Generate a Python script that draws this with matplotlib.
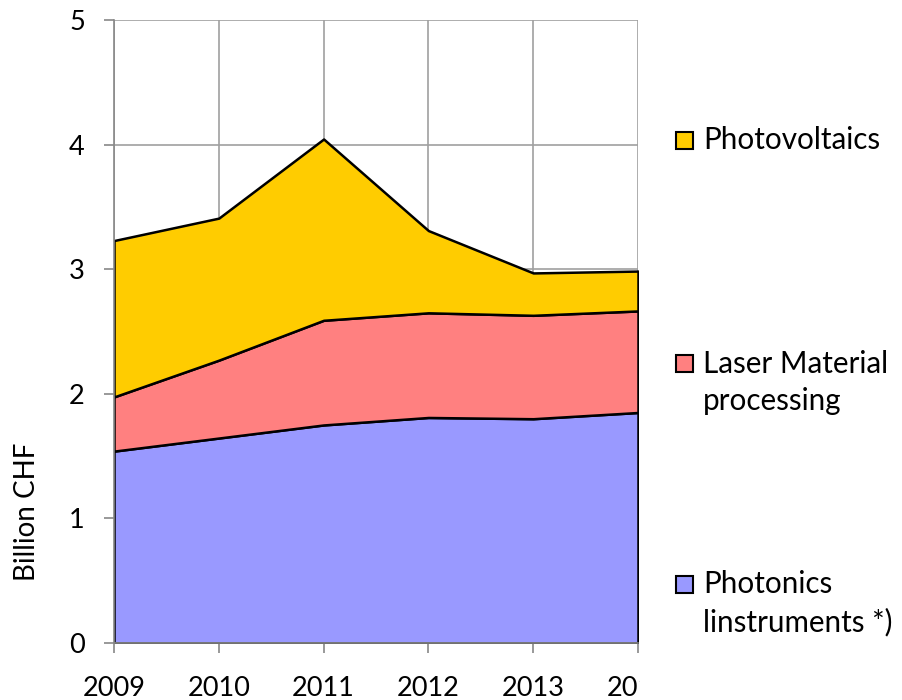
import matplotlib
matplotlib.use("Agg")
import matplotlib.pyplot as plt
from matplotlib.patches import Rectangle
from matplotlib.transforms import Bbox
import numpy as np

plt.rcParams['font.family'] = ['Lato', 'DejaVu Sans']

# data (billion CHF)
years = [2009, 2010, 2011, 2012, 2013, 2014]
photonics = [1.54, 1.645, 1.75, 1.81, 1.80, 1.85]
laser = [0.435, 0.625, 0.84, 0.84, 0.83, 0.815]
photovoltaics = [1.255, 1.14, 1.455, 0.66, 0.34, 0.32]
labels = ['Photonics\nlinstruments *)', 'Laser Material\nprocessing', 'Photovoltaics']
colors = ['#9999FF', '#FF8080', '#FFCC00']

fig = plt.figure(figsize=(9.03, 7), dpi=100)
ax = fig.add_axes([114/903, 57/700, 524/903, 623/700])

ax.stackplot(years, photonics, laser, photovoltaics, colors=colors,
             edgecolor='black', linewidth=1.8)

ax.set_xlim(2009, 2014)
ax.set_ylim(0, 5)
ax.set_xticks(years)
ax.set_yticks(range(6))
ax.grid(True, color='#A0A0A0', linewidth=1.2)
ax.set_axisbelow(True)
for s in ['top', 'right']:
    ax.spines[s].set_visible(False)
for s in ['left', 'bottom']:
    ax.spines[s].set_color('#888888')
    ax.spines[s].set_linewidth(1.2)
    ax.spines[s].set_zorder(3)
ax.tick_params(axis='both', direction='out', length=7, color='#888888', width=1.2,
               labelsize=19.5)
ax.tick_params(axis='x', pad=17)
ax.tick_params(axis='y', pad=14)
ax.set_ylabel('Billion CHF', fontsize=20)
ax.yaxis.set_label_coords(-0.141, 0.21)

# the original is cropped at the right edge of the plot
clip = Bbox.from_extents(0, 0, 640, 700)
for lab in ax.get_xticklabels():
    lab.set_clip_on(True)
    lab.set_clip_box(clip)

# legend, placed by hand like the original (first-line centre, block centre)
entries = [(labels[2], colors[2], 140, 140),
           (labels[1], colors[1], 363, 382.5),
           (labels[0], colors[0], 584, 603.5)]
for text, col, ytop, ymid in entries:
    fig.patches.append(Rectangle((676/903, 1 - (ytop + 9)/700), 17/903, 17/700,
                                 transform=fig.transFigure, facecolor=col,
                                 edgecolor='black', linewidth=1.5))
    fig.text(703/903, 1 - ymid/700, text, fontsize=21.3, va='center', ha='left',
             linespacing=1.4)

fig.savefig('out.png', dpi=100)
